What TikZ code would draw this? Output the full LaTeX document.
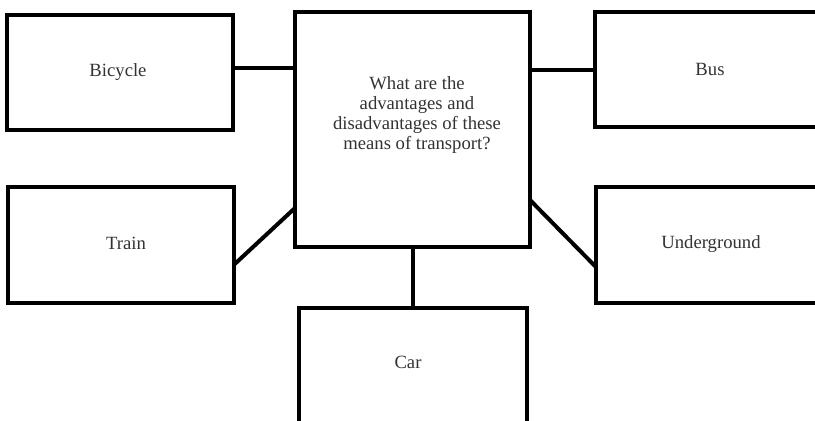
\documentclass[tikz,border=0pt]{standalone}
\usepackage{fontspec}
\setmainfont{Liberation Serif}
\usetikzlibrary{fit,calc}
\begin{document}
\begin{tikzpicture}[x=0.75pt,y=-0.75pt,
  box/.style={draw=black, line width=3pt, inner sep=0pt, outer sep=0pt},
  lbl/.style={anchor=base, font=\fontsize{14}{15}\selectfont, text=black!80, inner sep=0pt},
  qtext/.style={align=center, font=\fontsize{14}{15}\selectfont, text=black!80, inner sep=0pt},
  link/.style={line width=3pt, draw=black}]
\clip (0,0) rectangle (815,421);
\fill[white] (0,0) rectangle (815,421);
\node[box, fit={(7,15) (233,130)}] (bicycle) {};
\node[box, fit={(295,12) (530,247)}] (center) {};
\node[box, fit={(595,12) (825,127)}] (bus) {};
\node[box, fit={(8,187) (234,303)}] (train) {};
\node[box, fit={(596,187) (826,303)}] (underground) {};
\node[box, fit={(299,308) (527,430)}] (car) {};
\node[lbl] (bicycletext) at (118,76) {Bicycle};
\node[lbl] (bustext) at (710,75) {Bus};
\node[lbl] (traintext) at (126,249) {Train};
\node[lbl] (undergroundtext) at (711,248) {Underground};
\node[lbl] (cartext) at (408,368) {Car};
\node[qtext] (question) at (417,115) {What are the\\advantages and\\disadvantages of these\\means of transport?};
\draw[link] ([yshift=3.4pt]bicycle.east) -- ([yshift=3.4pt]bicycle.east -| center.west);
\draw[link] (center.east |- bus.west) -- (bus.west);
\draw[link] ($(train.north east)!0.67!(train.south east)$) -- ($(center.north west)!0.834!(center.south west)$);
\draw[link] ($(center.north east)!0.8!(center.south east)$) -- ($(underground.north west)!0.69!(underground.south west)$);
\draw[link] (center.south) -- (center.south |- car.north);
\end{tikzpicture}
\end{document}
